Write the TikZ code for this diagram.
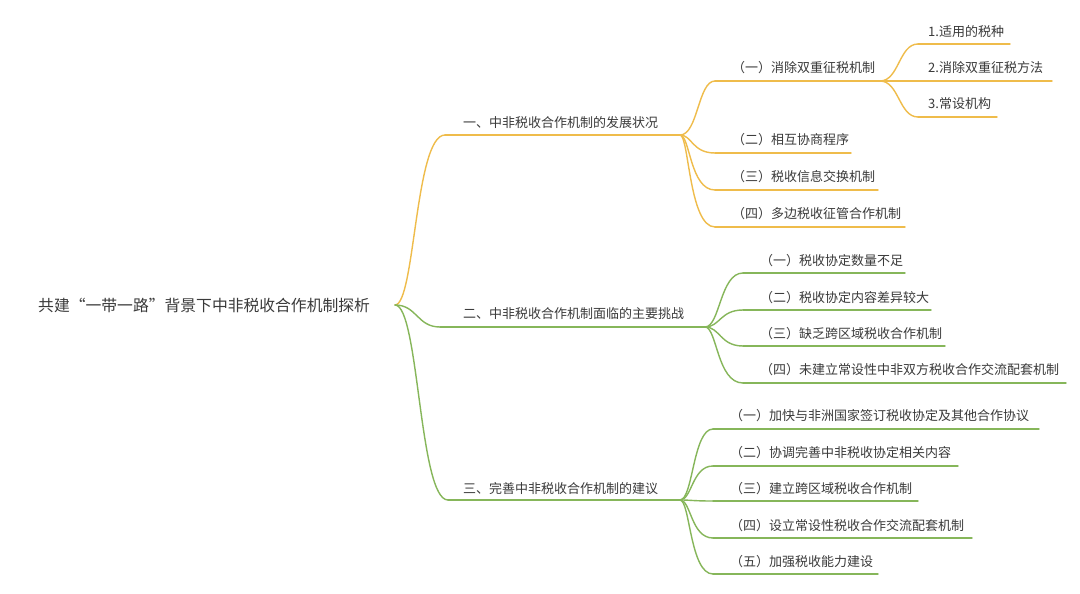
\documentclass[tikz,border=0pt]{standalone}
\usepackage{fontspec}
\setmainfont{Noto Sans CJK SC}
\usetikzlibrary{calc}
\definecolor{mmyellow}{HTML}{EFBC4B}
\definecolor{mmgreen}{HTML}{86B65A}
\definecolor{mmtext}{HTML}{3A3A3A}
\tikzset{
  topic/.style={anchor=west, inner sep=0pt, text=mmtext, font=\fontsize{13pt}{15pt}\selectfont},
  roottopic/.style={anchor=west, inner sep=0pt, text=mmtext, font=\fontsize{15.8pt}{18pt}\selectfont},
  yline/.style={draw=mmyellow, line width=1.4pt, line cap=round},
  gline/.style={draw=mmgreen, line width=1.4pt, line cap=round},
}
\newcommand\mmcurve[4]{\draw[#1] (#2) .. controls ($(#2)+(#4,0)$) and ($(#2 |- #3)+(#4,0)$) .. (#3);}
\begin{document}
\begin{tikzpicture}[x=1pt,y=-1pt]
\useasboundingbox[fill=white] (0,0) rectangle (1080,594);

% root
\node[roottopic] (root) at (38,305) {共建“一带一路”背景下中非税收合作机制探析};
\coordinate (rj) at (395,305);

% ---------- branch 1 ----------
\coordinate (b1s) at (445,135); \coordinate (b1e) at (680,135);
\node[topic] (b1) at (463,123) {一、中非税收合作机制的发展状况};
\draw[yline] (b1s) -- (b1e);
\mmcurve{yline}{rj}{b1s}{20}

\coordinate (c11s) at (715,81); \coordinate (c11e) at (880,81);
\node[topic] (c11) at (732,68) {（一）消除双重征税机制};
\draw[yline] (c11s) -- (c11e);
\mmcurve{yline}{b1e}{c11s}{18}

\coordinate (d1s) at (918,44); \coordinate (d1e) at (1010,44);
\node[topic] (d1) at (928,32) {1.适用的税种};
\draw[yline] (d1s) -- (d1e);
\mmcurve{yline}{c11e}{d1s}{19}

\coordinate (d2s) at (918,81); \coordinate (d2e) at (1052,81);
\node[topic] (d2) at (928,68) {2.消除双重征税方法};
\draw[yline] (c11e) -- (d2s) -- (d2e);

\coordinate (d3s) at (918,117); \coordinate (d3e) at (997,117);
\node[topic] (d3) at (928,104) {3.常设机构};
\draw[yline] (d3s) -- (d3e);
\mmcurve{yline}{c11e}{d3s}{19}

\coordinate (c12s) at (715,153); \coordinate (c12e) at (851,153);
\node[topic] (c12) at (732,140) {（二）相互协商程序};
\draw[yline] (c12s) -- (c12e);
\mmcurve{yline}{b1e}{c12s}{12}

\coordinate (c13s) at (715,190); \coordinate (c13e) at (878,190);
\node[topic] (c13) at (732,177) {（三）税收信息交换机制};
\draw[yline] (c13s) -- (c13e);
\mmcurve{yline}{b1e}{c13s}{10}

\coordinate (c14s) at (715,227); \coordinate (c14e) at (905,227);
\node[topic] (c14) at (732,214) {（四）多边税收征管合作机制};
\draw[yline] (c14s) -- (c14e);
\mmcurve{yline}{b1e}{c14s}{9}

% ---------- branch 2 ----------
\coordinate (b2s) at (440,327); \coordinate (b2e) at (705,327);
\node[topic] (b2) at (463,314) {二、中非税收合作机制面临的主要挑战};
\draw[gline] (b2s) -- (b2e);
\mmcurve{gline}{rj}{b2s}{22}

\coordinate (c21s) at (743,273); \coordinate (c21e) at (905,273);
\node[topic] (c21) at (760,261) {（一）税收协定数量不足};
\draw[gline] (c21s) -- (c21e);
\mmcurve{gline}{b2e}{c21s}{15}

\coordinate (c22s) at (743,310); \coordinate (c22e) at (931,310);
\node[topic] (c22) at (760,298) {（二）税收协定内容差异较大};
\draw[gline] (c22s) -- (c22e);
\mmcurve{gline}{b2e}{c22s}{15}

\coordinate (c23s) at (743,346); \coordinate (c23e) at (945,346);
\node[topic] (c23) at (760,334) {（三）缺乏跨区域税收合作机制};
\draw[gline] (c23s) -- (c23e);
\mmcurve{gline}{b2e}{c23s}{15}

\coordinate (c24s) at (743,383); \coordinate (c24e) at (1066,383);
\node[topic] (c24) at (760,370) {（四）未建立常设性中非双方税收合作交流配套机制};
\draw[gline] (c24s) -- (c24e);
\mmcurve{gline}{b2e}{c24s}{12}

% ---------- branch 3 ----------
\coordinate (b3s) at (448,500); \coordinate (b3e) at (680,500);
\node[topic] (b3) at (463,489) {三、完善中非税收合作机制的建议};
\draw[gline] (b3s) -- (b3e);
\mmcurve{gline}{rj}{b3s}{24}

\coordinate (c31s) at (713,429); \coordinate (c31e) at (1039,429);
\node[topic] (c31) at (730,416) {（一）加快与非洲国家签订税收协定及其他合作协议};
\draw[gline] (c31s) -- (c31e);
\mmcurve{gline}{b3e}{c31s}{13}

\coordinate (c32s) at (713,466); \coordinate (c32e) at (958,466);
\node[topic] (c32) at (730,453) {（二）协调完善中非税收协定相关内容};
\draw[gline] (c32s) -- (c32e);
\mmcurve{gline}{b3e}{c32s}{12}

\coordinate (c33s) at (713,501); \coordinate (c33e) at (918,501);
\node[topic] (c33) at (730,489) {（三）建立跨区域税收合作机制};
\draw[gline] (c33s) -- (c33e);
\mmcurve{gline}{b3e}{c33s}{12}

\coordinate (c34s) at (713,538); \coordinate (c34e) at (972,538);
\node[topic] (c34) at (730,526) {（四）设立常设性税收合作交流配套机制};
\draw[gline] (c34s) -- (c34e);
\mmcurve{gline}{b3e}{c34s}{11}

\coordinate (c35s) at (713,574); \coordinate (c35e) at (878,574);
\node[topic] (c35) at (730,562) {（五）加强税收能力建设};
\draw[gline] (c35s) -- (c35e);
\mmcurve{gline}{b3e}{c35s}{10}

\end{tikzpicture}
\end{document}
